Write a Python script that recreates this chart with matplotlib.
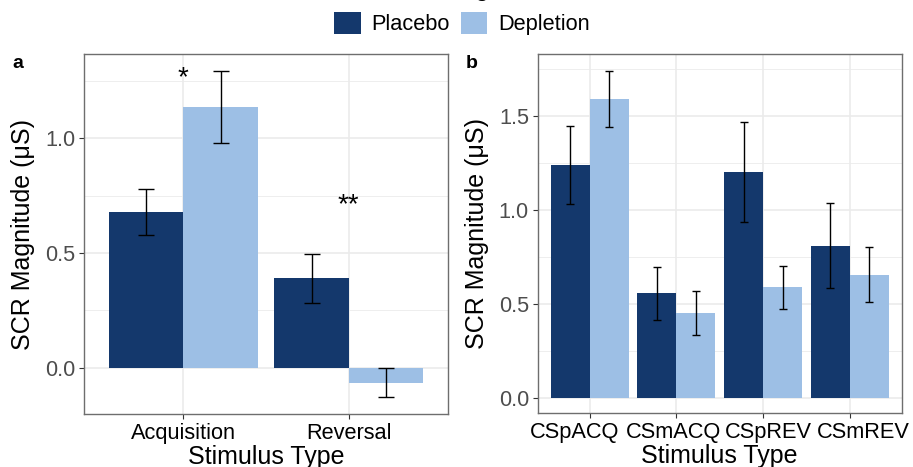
import numpy as np
import matplotlib
matplotlib.use("Agg")
import matplotlib.pyplot as plt
from matplotlib.patches import Patch
from matplotlib.transforms import ScaledTranslation

plt.rcParams['font.family'] = ['Liberation Sans', 'DejaVu Sans']

# ---- data ----
groups = ["Placebo", "Depletion"]
colors = ["#14386C", "#9DBFE5"]

a_cats = ["Acquisition", "Reversal"]
a_placebo = [0.68, 0.39]
a_placebo_se = [0.100, 0.107]
a_depletion = [1.136, -0.065]
a_depletion_se = [0.158, 0.065]
a_stars = ["*", "**"]
a_star_y = [1.26, 0.71]

b_cats = ["CSpACQ", "CSmACQ", "CSpREV", "CSmREV"]
b_placebo = [1.238, 0.556, 1.201, 0.809]
b_placebo_se = [0.208, 0.140, 0.265, 0.225]
b_depletion = [1.590, 0.453, 0.588, 0.655]
b_depletion_se = [0.149, 0.117, 0.114, 0.146]

W, H = 913, 467
fig = plt.figure(figsize=(W / 100, H / 100), dpi=100)


def px_axes(left, top, right, bottom):
    return fig.add_axes([left / W, 1 - bottom / H, (right - left) / W, (bottom - top) / H])


def panel(ax, cats, pla, pla_se, dep, dep_se, ylim, major, minor, cap):
    x = np.arange(1, len(cats) + 1)
    w = 0.45
    for vals, se, off, col in ((pla, pla_se, -w / 2, colors[0]), (dep, dep_se, w / 2, colors[1])):
        ax.bar(x + off, vals, width=w, color=col, zorder=2)
        ax.errorbar(x + off, vals, yerr=se, fmt="none", ecolor="black", elinewidth=1.0,
                    capsize=cap, capthick=1.0, zorder=3)
    ax.set_xlim(0.4, len(cats) + 0.6)
    ax.set_ylim(*ylim)
    ax.set_xticks(x)
    ax.set_xticklabels(cats, fontsize=15.7, color="black")
    ax.set_yticks(major)
    ax.set_yticklabels([f"{v:.1f}" for v in major], fontsize=15.7, color="#4D4D4D")
    ax.set_yticks(minor, minor=True)
    ax.tick_params(axis="both", which="major", length=3.8, width=0.8, color="#333333", pad=2.5)
    ax.tick_params(axis="y", which="minor", length=0)
    ax.grid(True, which="major", color="#EBEBEB", lw=1.2, zorder=0)
    ax.grid(True, which="minor", axis="y", color="#EBEBEB", lw=0.6, zorder=0)
    ax.set_axisbelow(True)
    for s in ax.spines.values():
        s.set_color("#6E6E6E")
        s.set_linewidth(1.0)
    ax.set_ylabel("SCR Magnitude (μS)", fontsize=18, labelpad=7)
    ax.set_xlabel("Stimulus Type", fontsize=18, labelpad=1)
    return x


axa = px_axes(84, 54, 448, 414)
xa = panel(axa, a_cats, a_placebo, a_placebo_se, a_depletion, a_depletion_se,
           (-0.202, 1.367), [0.0, 0.5, 1.0], [0.25, 0.75, 1.25], 5.8)
for xi, s, yi in zip(xa, a_stars, a_star_y):
    axa.text(xi, yi, s, ha="center", va="center", fontsize=20, zorder=4)

axb = px_axes(537.7, 54, 901.7, 413.3)
panel(axb, b_cats, b_placebo, b_placebo_se, b_depletion, b_depletion_se,
      (-0.081, 1.828), [0.0, 0.5, 1.0, 1.5], [0.25, 0.75, 1.25, 1.75], 3.1)

# the source spreads the crowded panel-b tick labels apart (pixel shifts)
for lab, dx in zip(axb.get_xticklabels(), [-15, -3, 5, 14]):
    lab.set_transform(lab.get_transform() + ScaledTranslation(dx / 100, 0, fig.dpi_scale_trans))

fig.text(12 / W, 1 - 64 / H, "a", fontsize=14, fontweight="bold", va="center", ha="left")
fig.text(466 / W, 1 - 64 / H, "b", fontsize=14, fontweight="bold", va="center", ha="left")

# legend (title mostly cropped off the top, as in the source)
fig.text(462 / W, 1 + 4 / H, "Drug", fontsize=18, ha="center", va="baseline")
handles = [Patch(facecolor=c, edgecolor="none", label=g) for c, g in zip(colors, groups)]
fig.legend(handles=handles, loc="center", bbox_to_anchor=(462 / W, 1 - 23.5 / H), ncol=2,
           frameon=False, fontsize=15.7, handlelength=1.2, handleheight=1.2,
           handletextpad=0.5, columnspacing=0.5, borderaxespad=0, borderpad=0)

fig.savefig("out.png", dpi=100)
